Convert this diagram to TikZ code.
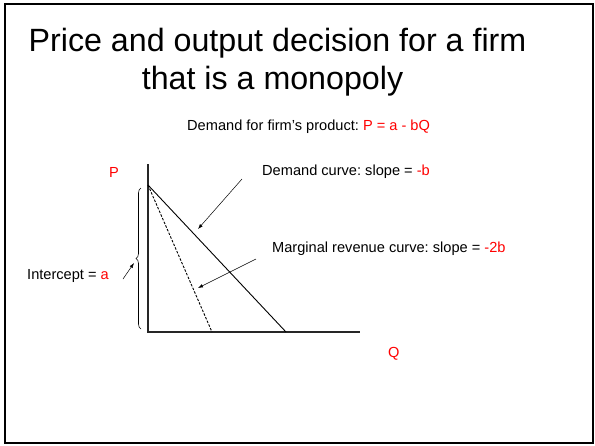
\documentclass[tikz,border=0pt]{standalone}
\usepackage{fontspec}
\setmainfont{Liberation Sans}
\usetikzlibrary{arrows.meta,decorations.pathreplacing}
\definecolor{pptred}{RGB}{255,0,0}
\frenchspacing
\begin{document}
\begin{tikzpicture}[x=1pt,y=-1pt,
  lbl/.style={font=\fontsize{14.6}{16}\selectfont, inner sep=0pt, anchor=west},
  ttl/.style={font=\fontsize{32.2}{36}\selectfont, inner sep=0pt},
  axisline/.style={line width=1.1pt, draw=black!85},
  curveline/.style={line width=0.9pt},
  pointer/.style={line width=0.5pt, -{Latex[length=5pt,width=3.5pt]}}]
\useasboundingbox (0,0) rectangle (595,445);
\draw[line width=1.2pt] (5,4) rectangle (593,443);
% titles
\node[ttl] (t1) at (277.5,43) {Price and output decision for a firm};
\node[ttl] (t2) at (272.5,81) {that is a monopoly};
\node[lbl] (sub) at (187,127) {Demand for firm's product: \textcolor{pptred}{P = a - bQ}};
% axes
\coordinate (top) at (148,164);
\coordinate (o) at (148,332);
\coordinate (xend) at (360,332);
\draw[axisline] (top) -- (o) -- (xend);
\node[lbl, text=pptred] (P) at (109,172) {P};
\node[lbl, text=pptred] (Q) at (388,354) {Q};
% curves
\coordinate (a) at (148,185);
\coordinate (dq) at (286,332);
\coordinate (mq) at (212,332);
\draw[curveline] (a) -- (dq);
\draw[curveline, dashed, dash pattern=on 2.5pt off 1.5pt] (a) -- (mq);
% brace
\coordinate (b1) at (141,329);
\coordinate (b2) at (141,188);
\draw[line width=0.6pt, decorate, decoration={brace, amplitude=5pt}] (b1) -- (b2);
% labels
\node[lbl] (dlab) at (262,172) {Demand curve: slope = \textcolor{pptred}{-b}};
\node[lbl] (mlab) at (272,249) {Marginal revenue curve: slope = \textcolor{pptred}{-2b}};
\node[lbl] (ilab) at (27,276) {Intercept = \textcolor{pptred}{a}};
% pointers
\coordinate (ds) at (242,179);
\coordinate (de) at (198,229);
\coordinate (ms) at (256,259);
\coordinate (me) at (198,288);
\coordinate (is) at (123,279);
\coordinate (ie) at (134,263);
\draw[pointer] (ds) -- (de);
\draw[pointer] (ms) -- (me);
\draw[pointer] (is) -- (ie);
\end{tikzpicture}
\end{document}
